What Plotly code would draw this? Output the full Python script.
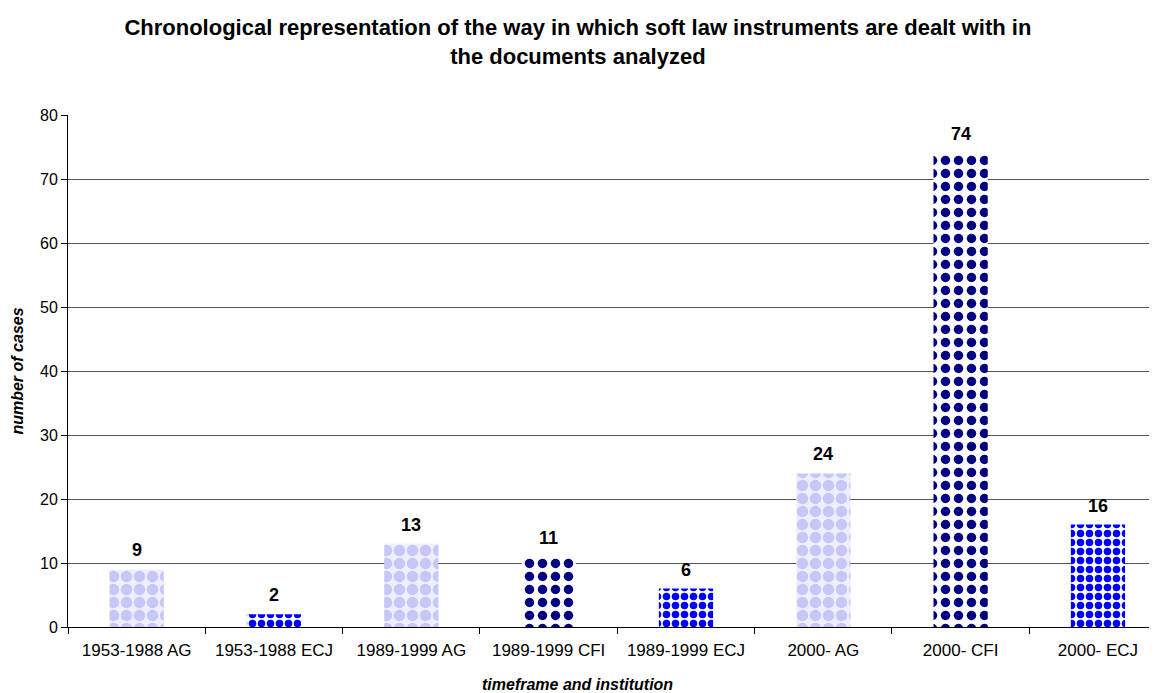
import plotly.graph_objects as go

categories = ["1953-1988 AG", "1953-1988 ECJ", "1989-1999 AG", "1989-1999 CFI",
              "1989-1999 ECJ", "2000- AG", "2000- CFI", "2000- ECJ"]
values = [9, 2, 13, 11, 6, 24, 74, 16]
institutions = ["AG", "ECJ", "AG", "CFI", "ECJ", "AG", "CFI", "ECJ"]

styles = {
    "AG": dict(shape=".", fgcolor="#C6C6F7", bgcolor="#EEEEFF", size=13, solidity=0.6),
    "CFI": dict(shape=".", fgcolor="#000080", bgcolor="#FFFFFF", size=13, solidity=0.42),
    "ECJ": dict(shape=".", fgcolor="#0000FF", bgcolor="#FFFFFF", size=9, solidity=0.55),
}

FONT = "Liberation Sans, Arial, sans-serif"

fig = go.Figure()
fig.add_trace(go.Bar(
    x=categories, y=values,
    width=0.395,
    marker=dict(
        color="#FFFFFF",
        line=dict(width=0),
        pattern=dict(
            shape=[styles[i]["shape"] for i in institutions],
            fgcolor=[styles[i]["fgcolor"] for i in institutions],
            bgcolor=[styles[i]["bgcolor"] for i in institutions],
            size=[styles[i]["size"] for i in institutions],
            solidity=[styles[i]["solidity"] for i in institutions],
            fgopacity=1,
            fillmode="replace",
        ),
    ),
    showlegend=False,
    hoverinfo="x+y",
))

for c, v in zip(categories, values):
    fig.add_annotation(
        x=c, y=v, text=f"<b>{v}</b>", showarrow=False,
        yanchor="bottom", yshift=7,
        font=dict(family=FONT, size=18, color="black"),
    )

# x-axis title (centred under the chart as in the original, not under the clipped plot area)
fig.add_annotation(
    xref="paper", yref="paper", x=0.468, y=0, yshift=-57,
    xanchor="center", yanchor="middle", showarrow=False,
    text="<b><i>timeframe and institution</i></b>",
    font=dict(family=FONT, size=16, color="black"),
)

fig.update_layout(
    width=1149, height=685,
    margin=dict(l=60, r=0, t=107, b=66),
    paper_bgcolor="white", plot_bgcolor="white",
    font=dict(family=FONT, size=16, color="black"),
    title=dict(
        text="<b>Chronological representation of the way in which soft law instruments are dealt with in<br>the documents analyzed</b>",
        x=0.496, xanchor="center", xref="container",
        y=0.96, yanchor="top", yref="container",
        font=dict(size=22, family=FONT, color="black"),
    ),
)
fig.update_xaxes(
    type="category", range=[-0.5, 7.43], tickson="boundaries", ticks="outside", ticklen=6,
    tickcolor="black", showline=True, linecolor="black", linewidth=1,
    tickfont=dict(size=17), ticklabelstandoff=8, automargin=False,
)
fig.update_yaxes(
    range=[0, 80], dtick=10, ticks="outside", ticklen=6, tickcolor="black",
    showline=True, linecolor="black", linewidth=1,
    showgrid=True, gridcolor="#555555", gridwidth=1, zeroline=False,
    tickfont=dict(size=16),
    title=dict(text="<b><i>number of cases</i></b>", font=dict(size=16), standoff=12),
)

fig.write_html("out.html")
